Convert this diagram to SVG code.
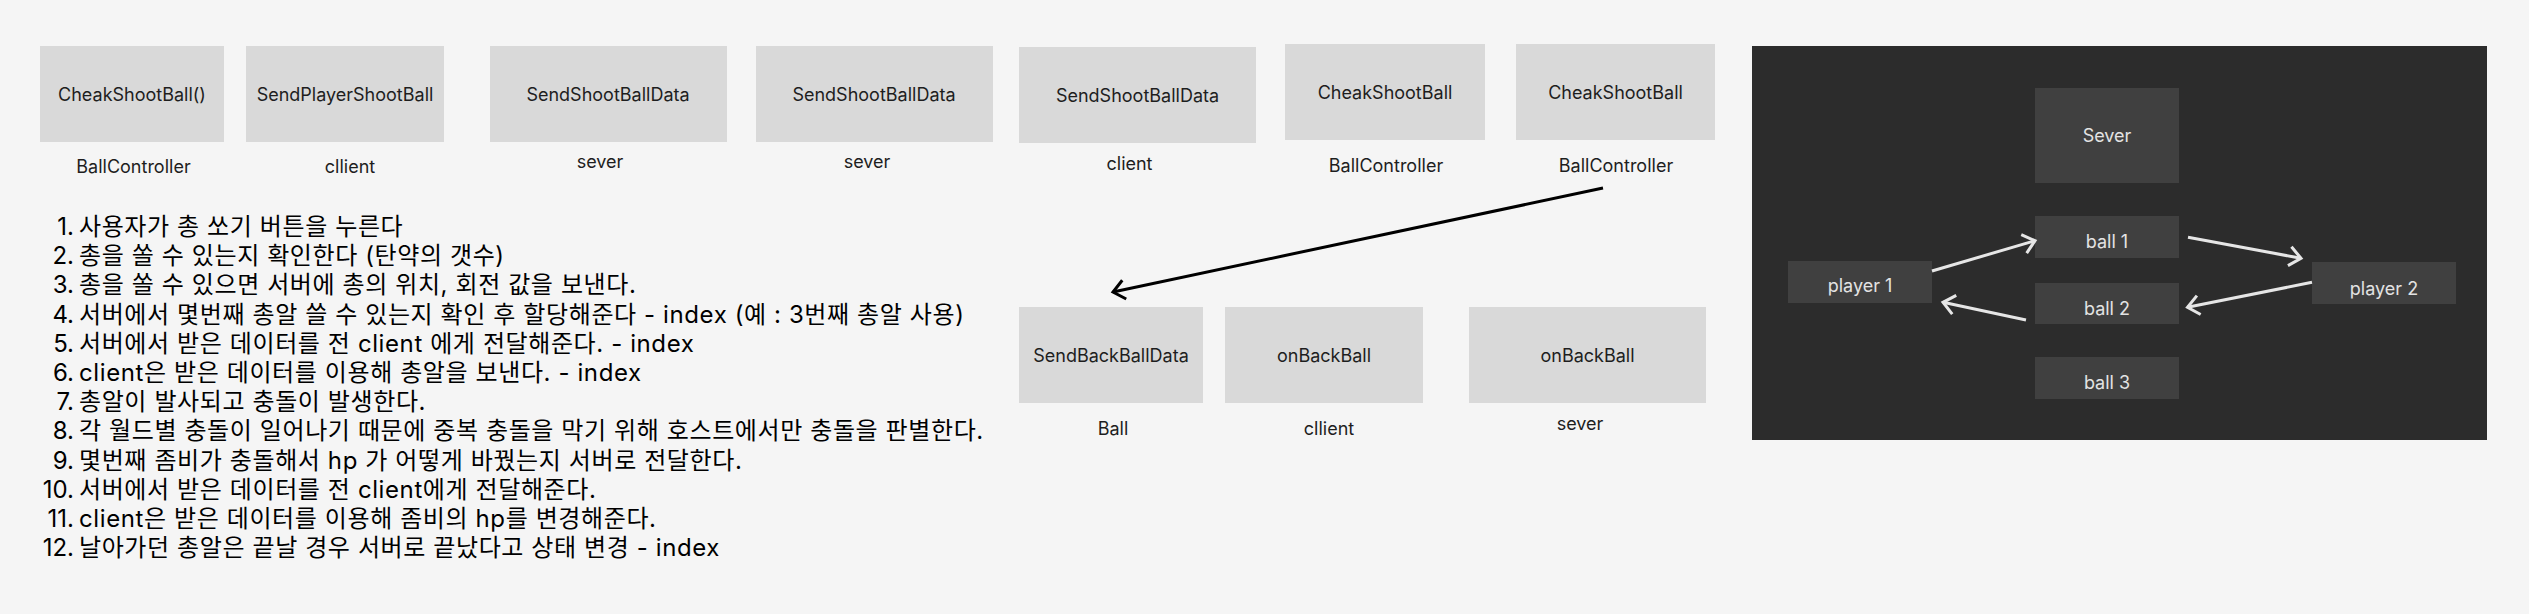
<svg xmlns="http://www.w3.org/2000/svg" width="2529" height="614" viewBox="0 0 2529 614">
  <style>
    text { font-family: Inter, "Noto Sans CJK KR", sans-serif; }
    .box { fill: #d9d9d9; }
    .bt { font-size: 18px; fill: #1e1e1e; text-anchor: middle; }
    .lbl { font-size: 18px; fill: #1e1e1e; text-anchor: middle; }
    .list { font-size: 24px; fill: #000; }
    .list tspan { letter-spacing: 0.6px; }
    .list tspan.num { text-anchor: end; letter-spacing: 0; }
    .dbox { fill: #404040; }
    .dt { font-size: 18px; fill: #e3e3e3; text-anchor: middle; }
    .blk { stroke: #000; stroke-width: 3; fill: none; }
    .wht { stroke: #e6e6e6; stroke-width: 3; fill: none; }
  </style>
  <defs>
    <marker id="ahB" markerUnits="userSpaceOnUse" markerWidth="40" markerHeight="40" viewBox="-20 -20 40 40" refX="0" refY="0" orient="auto" overflow="visible">
      <path d="M -11.5 -9.6 L 0 0 L -11.5 9.6" fill="none" stroke="#000" stroke-width="3"/>
    </marker>
    <marker id="ahW" markerUnits="userSpaceOnUse" markerWidth="40" markerHeight="40" viewBox="-20 -20 40 40" refX="0" refY="0" orient="auto" overflow="visible">
      <path d="M -11.5 -9.6 L 0 0 L -11.5 9.6" fill="none" stroke="#e6e6e6" stroke-width="3"/>
    </marker>
  </defs>
  <rect x="0" y="0" width="2529" height="614" fill="#f5f5f5"/>

  <g id="n1"><rect class="box" x="40" y="46" width="184" height="96"/><text class="bt" x="132" y="100.5">CheakShootBall()</text><text class="lbl" x="133.5" y="173">BallController</text></g>
  <g id="n2"><rect class="box" x="246" y="46" width="198" height="96"/><text class="bt" x="345" y="100.5">SendPlayerShootBall</text><text class="lbl" x="350" y="173">cllient</text></g>
  <g id="n3"><rect class="box" x="490" y="46" width="237" height="96"/><text class="bt" x="608" y="100.5">SendShootBallData</text><text class="lbl" x="600" y="168">sever</text></g>
  <g id="n4"><rect class="box" x="756" y="46" width="237" height="96"/><text class="bt" x="874" y="100.5">SendShootBallData</text><text class="lbl" x="867" y="168">sever</text></g>
  <g id="n5"><rect class="box" x="1019" y="47" width="237" height="96"/><text class="bt" x="1137.5" y="101.5">SendShootBallData</text><text class="lbl" x="1129.5" y="170">client</text></g>
  <g id="n6"><rect class="box" x="1285" y="44" width="200" height="96"/><text class="bt" x="1385" y="99">CheakShootBall</text><text class="lbl" x="1386" y="171.5">BallController</text></g>
  <g id="n7"><rect class="box" x="1516" y="44" width="199" height="96"/><text class="bt" x="1615.5" y="99">CheakShootBall</text><text class="lbl" x="1616" y="171.5">BallController</text></g>

  <g id="n8"><rect class="box" x="1019" y="307" width="184" height="96"/><text class="bt" x="1111" y="362">SendBackBallData</text><text class="lbl" x="1113" y="435">Ball</text></g>
  <g id="n9"><rect class="box" x="1225" y="307" width="198" height="96"/><text class="bt" x="1324" y="362">onBackBall</text><text class="lbl" x="1329" y="435">cllient</text></g>
  <g id="n10"><rect class="box" x="1469" y="307" width="237" height="96"/><text class="bt" x="1587.5" y="362">onBackBall</text><text class="lbl" x="1580" y="430">sever</text></g>

  <g id="steps" class="list">
    <text y="235"><tspan class="num" x="74">1.</tspan><tspan x="79">사용자가 총 쏘기 버튼을 누른다</tspan></text>
    <text y="264.2"><tspan class="num" x="74">2.</tspan><tspan x="79">총을 쏠 수 있는지 확인한다 (탄약의 갯수)</tspan></text>
    <text y="293.4"><tspan class="num" x="74">3.</tspan><tspan x="79">총을 쏠 수 있으면 서버에 총의 위치, 회전 값을 보낸다.</tspan></text>
    <text y="322.6"><tspan class="num" x="74">4.</tspan><tspan x="79">서버에서 몇번째 총알 쓸 수 있는지 확인 후 할당해준다 - index (예 : 3번째 총알 사용)</tspan></text>
    <text y="351.8"><tspan class="num" x="74">5.</tspan><tspan x="79">서버에서 받은 데이터를 전 client 에게 전달해준다. - index</tspan></text>
    <text y="381"><tspan class="num" x="74">6.</tspan><tspan x="79">client은 받은 데이터를 이용해 총알을 보낸다. - index</tspan></text>
    <text y="410.2"><tspan class="num" x="74">7.</tspan><tspan x="79">총알이 발사되고 충돌이 발생한다.</tspan></text>
    <text y="439.4"><tspan class="num" x="74">8.</tspan><tspan x="79">각 월드별 충돌이 일어나기 때문에 중복 충돌을 막기 위해 호스트에서만 충돌을 판별한다.</tspan></text>
    <text y="468.6"><tspan class="num" x="74">9.</tspan><tspan x="79">몇번째 좀비가 충돌해서 hp 가 어떻게 바꿨는지 서버로 전달한다.</tspan></text>
    <text y="497.8"><tspan class="num" x="74">10.</tspan><tspan x="79">서버에서 받은 데이터를 전 client에게 전달해준다.</tspan></text>
    <text y="527"><tspan class="num" x="74">11.</tspan><tspan x="79">client은 받은 데이터를 이용해 좀비의 hp를 변경해준다.</tspan></text>
    <text y="556.2"><tspan class="num" x="74">12.</tspan><tspan x="79">날아가던 총알은 끝날 경우 서버로 끝났다고 상태 변경 - index</tspan></text>
  </g>

  <rect id="panel" x="1752" y="46" width="735" height="394" fill="#2c2c2c"/>
  <g id="sever"><rect class="dbox" x="2035" y="88" width="144" height="95"/><text class="dt" x="2107" y="142">Sever</text></g>
  <g id="ball1"><rect class="dbox" x="2035" y="216" width="144" height="42"/><text class="dt" x="2107" y="248">ball 1</text></g>
  <g id="ball2"><rect class="dbox" x="2035" y="283" width="144" height="41"/><text class="dt" x="2107" y="315">ball 2</text></g>
  <g id="ball3"><rect class="dbox" x="2035" y="357" width="144" height="42"/><text class="dt" x="2107" y="389">ball 3</text></g>
  <g id="player1"><rect class="dbox" x="1788" y="261" width="144" height="42"/><text class="dt" x="1860" y="291.5">player 1</text></g>
  <g id="player2"><rect class="dbox" x="2312" y="262" width="144" height="42"/><text class="dt" x="2384" y="294.5">player 2</text></g>

  <g id="connectors">
    <line class="blk" x1="1603" y1="188" x2="1113" y2="292" marker-end="url(#ahB)"/>
    <line class="wht" x1="1932" y1="271" x2="2035" y2="240.7" marker-end="url(#ahW)"/>
    <line class="wht" x1="2188" y1="237.3" x2="2301" y2="258.3" marker-end="url(#ahW)"/>
    <line class="wht" x1="2312" y1="282.3" x2="2187.5" y2="307.3" marker-end="url(#ahW)"/>
    <line class="wht" x1="2026" y1="320" x2="1943" y2="302.3" marker-end="url(#ahW)"/>
  </g>
</svg>
